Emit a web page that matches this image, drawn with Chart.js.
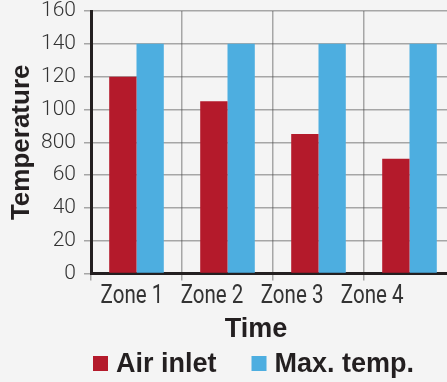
<!DOCTYPE html>
<html>
<head>
<meta charset="utf-8">
<script src="https://cdn.jsdelivr.net/npm/chart.js@4/dist/chart.umd.min.js"></script>
<style>
  html, body { margin: 0; padding: 0; background: #f4f4f4; overflow: hidden; width: 447px; height: 382px; }
  #wrap { position: relative; width: 512px; height: 382px; }
</style>
</head>
<body>
<div id="wrap"><canvas id="chart" width="512" height="382"></canvas></div>
<script>
// Categories and series
const zones = ['Zone 1', 'Zone 2', 'Zone 3', 'Zone 4'];
const airInlet = [120, 105, 85, 70];
const maxTemp = [140, 140, 140, 140];
// Printed tick labels on the temperature axis (bottom to top)
const yTickLabels = ['0', '20', '40', '60', '800', '100', '120', '140', '160'];

const gridColor = 'rgba(70,70,70,0.45)';
const inkColor = '#231f20';
const tickColor = '#333333';
const boldFamily = '"Liberation Sans", Arial, sans-serif';

// Zone names in a narrow face; they run on a slightly tighter pitch than the
// categories, measured in category units along the x scale
const zoneLabels = {
  id: 'zoneLabels',
  afterDraw(chart) {
    const ctx = chart.ctx;
    const xs = chart.scales.x;
    const pitch = 0.88;
    const shift = -0.05;
    const baseline = chart.chartArea.bottom + 29;
    ctx.save();
    ctx.font = '26px Roboto, sans-serif';
    ctx.fillStyle = tickColor;
    ctx.textAlign = 'center';
    ctx.textBaseline = 'alphabetic';
    zones.forEach((name, i) => {
      ctx.save();
      ctx.translate(xs.getPixelForValue(shift + i * pitch), baseline);
      ctx.scale(0.79, 1);
      ctx.fillText(name, 0, 0);
      ctx.restore();
    });
    ctx.restore();
  }
};

// Legend row along the bottom edge: square swatch, then the series name
const legendRow = {
  id: 'legendRow',
  afterDraw(chart) {
    const ctx = chart.ctx;
    const cy = chart.height - 18.5;
    const box = 15;
    let x = 93;
    ctx.save();
    ctx.font = 'bold 27px ' + boldFamily;
    ctx.textBaseline = 'middle';
    ctx.textAlign = 'left';
    chart.data.datasets.forEach(ds => {
      ctx.fillStyle = ds.backgroundColor;
      ctx.fillRect(x, cy - box / 2, box, box);
      ctx.fillStyle = inkColor;
      ctx.fillText(ds.label, x + box + 8, cy + 1);
      x += box + 8 + ctx.measureText(ds.label).width + 35;
    });
    ctx.restore();
  }
};

new Chart(document.getElementById('chart'), {
  type: 'bar',
  data: {
    labels: zones,
    datasets: [
      { label: 'Air inlet', data: airInlet, backgroundColor: '#b41a2b' },
      { label: 'Max. temp.', data: maxTemp, backgroundColor: '#4daee0' }
    ]
  },
  plugins: [zoneLabels, legendRow],
  options: {
    responsive: false,
    animation: false,
    layout: { autoPadding: false, padding: { top: 11, left: 0, right: 0, bottom: 36 } },
    datasets: { bar: { categoryPercentage: 0.6, barPercentage: 1.0 } },
    scales: {
      x: {
        z: 1,
        grid: { offset: true, color: gridColor, lineWidth: 1.5, tickLength: 7 },
        border: { color: inkColor, width: 3 },
        ticks: { display: false },
        afterFit(scale) { scale.height = 20; }
      },
      y: {
        z: 1,
        min: 0,
        max: 160,
        grid: { color: gridColor, lineWidth: 1.5, tickLength: 7 },
        border: { color: inkColor, width: 3 },
        ticks: {
          stepSize: 20,
          color: tickColor,
          padding: 8,
          font: { family: 'Roboto', weight: 300, size: 21 },
          callback: (value, index) => yTickLabels[index]
        },
        title: {
          display: true,
          text: 'Temperature',
          color: inkColor,
          padding: { top: 6, bottom: 0 },
          font: { family: boldFamily, weight: 'bold', size: 26 }
        },
        afterFit(scale) {
          scale.width = 91;
          scale.paddingTop = 0;
          scale.paddingBottom = 0;
        }
      },
      rightGap: {
        position: 'right',
        type: 'linear',
        grid: { display: false },
        border: { display: false },
        ticks: { display: false },
        afterFit(scale) { scale.width = 57; }
      }
    },
    plugins: {
      tooltip: { enabled: false },
      legend: { display: false },
      title: {
        display: true,
        text: 'Time',
        position: 'bottom',
        color: inkColor,
        padding: { top: 20, bottom: 0 },
        font: { family: boldFamily, weight: 'bold', size: 27 }
      }
    }
  }
});
</script>
</body>
</html>
